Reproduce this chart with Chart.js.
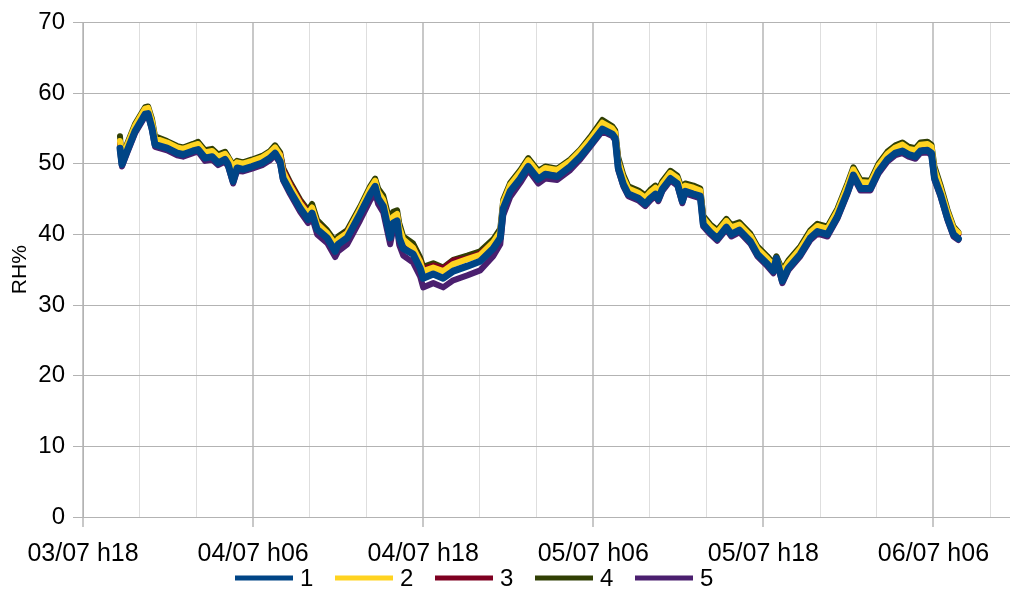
<!DOCTYPE html>
<html>
<head>
<meta charset="utf-8">
<script src="https://cdn.jsdelivr.net/npm/chart.js@4/dist/chart.umd.min.js"></script>
<style>
  html, body { margin: 0; padding: 0; background: #fff; }
  #wrap { width: 1010px; height: 592px; }
</style>
</head>
<body>
<div id="wrap"><canvas id="grafico" width="1010" height="592"></canvas></div>
<script>
// hours since 03/07 h18
const hours = [
  2.61, 2.75, 3.11, 3.67, 4.38, 4.59, 4.87, 5.08, 5.93, 6.64,
  7.06, 7.76, 8.12, 8.61, 9.11, 9.53, 10.02, 10.24, 10.59, 10.87,
  11.29, 11.93, 12.64, 13.20, 13.55, 13.91, 14.12, 14.61, 15.32, 15.88,
  16.16, 16.52, 17.22, 17.79, 18.00, 18.64, 19.55, 20.26, 20.61, 20.82,
  21.18, 21.67, 21.88, 22.16, 22.31, 22.59, 23.29, 23.79, 24.00, 24.71,
  25.41, 26.12, 27.11, 28.02, 28.94, 29.44, 29.65, 30.14, 30.85, 31.41,
  32.12, 32.61, 33.46, 34.38, 35.08, 35.79, 36.64, 37.34, 37.55, 37.76,
  38.12, 38.47, 39.18, 39.67, 40.02, 40.38, 40.59, 40.87, 41.44, 41.93,
  42.28, 42.49, 43.06, 43.55, 43.76, 44.26, 44.75, 45.39, 45.74, 46.31,
  47.08, 47.58, 48.28, 48.71, 48.92, 49.34, 49.76, 50.61, 51.32, 51.81,
  52.52, 53.22, 53.93, 54.35, 54.85, 55.55, 56.12, 56.75, 57.32, 57.81,
  58.24, 58.73, 59.08, 59.58, 59.86, 60.07, 60.49, 60.99, 61.41, 61.76
];

const rh1 = [
  52.2, 49.9, 51.8, 54.6, 57.0, 57.1, 55.0, 52.7, 52.2, 51.5,
  51.3, 51.8, 52.0, 50.8, 51.0, 50.1, 50.6, 49.9, 47.5, 49.4,
  49.2, 49.6, 50.1, 50.8, 51.5, 50.3, 47.9, 46.1, 43.7, 42.1,
  43.0, 40.7, 39.5, 37.6, 38.6, 39.5, 42.9, 45.7, 46.8, 45.1,
  44.0, 39.5, 41.6, 41.9, 39.5, 38.0, 37.2, 35.2, 33.8, 34.4,
  33.8, 34.8, 35.5, 36.2, 38.0, 39.5, 43.7, 46.1, 47.9, 49.6,
  47.8, 48.5, 48.2, 49.6, 51.0, 52.7, 54.9, 54.2, 53.6, 49.4,
  47.1, 45.7, 45.1, 44.3, 45.1, 45.7, 45.0, 46.4, 47.9, 47.2,
  44.7, 46.1, 45.7, 45.4, 41.4, 40.3, 39.4, 41.0, 40.0, 40.6,
  39.0, 37.2, 35.8, 34.8, 36.6, 33.4, 35.2, 37.2, 39.5, 40.4,
  40.0, 42.5, 46.0, 48.4, 46.5, 46.5, 48.9, 50.6, 51.5, 51.8,
  51.3, 51.0, 51.8, 51.9, 51.5, 48.0, 45.7, 42.3, 40.0, 39.4
];

const rh2 = [
  53.2, 50.8, 52.6, 55.4, 57.8, 57.9, 56.0, 53.6, 53.0, 52.3,
  52.1, 52.6, 52.8, 51.6, 51.8, 51.0, 51.4, 50.8, 49.6, 50.2,
  50.0, 50.4, 50.9, 51.6, 52.3, 51.2, 48.9, 46.9, 44.4, 42.9,
  43.8, 41.5, 40.2, 38.6, 39.3, 40.2, 43.6, 46.5, 47.6, 46.0,
  44.9, 41.0, 42.5, 42.9, 41.0, 39.3, 38.1, 36.1, 34.8, 35.3,
  34.8, 35.8, 36.5, 37.1, 38.9, 40.4, 44.6, 47.0, 48.8, 50.5,
  48.7, 49.4, 49.1, 50.4, 51.8, 53.5, 55.8, 55.0, 54.4, 50.4,
  48.0, 46.5, 45.9, 45.2, 46.0, 46.6, 46.0, 47.2, 48.7, 48.0,
  45.9, 46.9, 46.6, 46.2, 42.3, 41.1, 40.3, 41.9, 41.0, 41.4,
  39.8, 38.0, 36.6, 35.6, 36.6, 34.6, 36.0, 38.0, 40.3, 41.2,
  40.8, 43.3, 46.9, 49.2, 47.4, 47.3, 49.7, 51.4, 52.3, 52.7,
  52.1, 51.9, 52.7, 52.8, 52.4, 49.2, 46.6, 43.2, 40.9, 40.2
];

const rh3 = [
  52.8, 50.3, 52.3, 55.0, 57.5, 57.6, 55.6, 53.3, 52.7, 52.0,
  51.8, 52.3, 52.5, 51.3, 51.5, 50.6, 51.1, 50.4, 48.6, 49.9,
  49.7, 50.1, 50.6, 51.3, 52.0, 51.3, 49.2, 47.2, 44.7, 43.1,
  43.6, 41.6, 40.1, 38.5, 39.1, 40.3, 43.4, 46.2, 47.2, 45.8,
  44.8, 40.8, 42.3, 42.6, 40.8, 39.0, 38.1, 36.2, 35.1, 35.6,
  35.2, 36.3, 36.6, 37.3, 38.8, 40.2, 44.3, 46.7, 48.5, 50.1,
  48.3, 49.0, 48.7, 50.1, 51.5, 53.2, 55.4, 54.7, 54.1, 50.3,
  47.8, 46.3, 45.6, 44.9, 45.6, 46.2, 45.6, 46.9, 48.4, 47.7,
  45.5, 46.6, 46.2, 45.9, 42.2, 40.9, 40.1, 41.5, 40.6, 41.1,
  39.5, 37.8, 36.5, 35.5, 36.2, 34.6, 35.8, 37.7, 40.0, 40.9,
  40.5, 43.0, 46.5, 48.8, 47.0, 47.0, 49.3, 51.0, 51.9, 52.2,
  51.7, 51.5, 52.2, 52.3, 52.0, 48.9, 46.4, 43.0, 40.6, 40.0
];

const rh4 = [
  53.9, 50.0, 52.8, 55.6, 58.0, 58.1, 56.3, 53.9, 53.2, 52.5,
  52.3, 52.8, 53.1, 51.9, 52.1, 51.3, 51.7, 51.0, 49.8, 50.4,
  50.2, 50.6, 51.1, 51.8, 52.6, 51.6, 49.4, 47.4, 44.9, 43.4,
  44.3, 42.0, 40.6, 39.0, 39.7, 40.6, 43.9, 46.8, 47.9, 46.5,
  45.5, 41.6, 43.2, 43.4, 41.6, 39.7, 38.7, 36.7, 35.4, 35.9,
  35.3, 36.4, 37.0, 37.6, 39.3, 40.8, 44.9, 47.3, 49.1, 50.8,
  49.0, 49.6, 49.3, 50.6, 52.0, 53.8, 56.2, 55.3, 54.7, 50.9,
  48.4, 46.8, 46.2, 45.5, 46.3, 46.9, 46.3, 47.5, 49.0, 48.3,
  46.3, 47.2, 46.9, 46.5, 42.6, 41.4, 40.6, 42.2, 41.3, 41.7,
  40.1, 38.3, 36.9, 35.9, 36.9, 34.9, 36.3, 38.3, 40.6, 41.5,
  41.1, 43.6, 47.2, 49.5, 47.7, 47.6, 50.0, 51.7, 52.6, 53.0,
  52.4, 52.2, 53.0, 53.1, 52.7, 49.6, 47.0, 43.5, 41.1, 40.3
];

const rh5 = [
  51.9, 49.6, 51.5, 54.3, 56.7, 56.8, 54.7, 52.4, 51.9, 51.2,
  51.0, 51.5, 51.7, 50.4, 50.6, 49.8, 50.3, 49.6, 47.2, 49.0,
  48.9, 49.3, 49.8, 50.5, 51.2, 50.0, 47.6, 45.7, 43.2, 41.6,
  42.4, 40.0, 38.8, 36.8, 37.6, 38.6, 42.0, 44.8, 45.9, 44.3,
  43.1, 38.6, 40.6, 40.8, 38.5, 37.0, 36.0, 34.0, 32.5, 33.1,
  32.5, 33.5, 34.2, 34.9, 36.9, 38.6, 42.7, 45.3, 47.3, 49.1,
  47.2, 47.9, 47.7, 49.1, 50.6, 52.4, 54.6, 53.9, 53.3, 49.1,
  46.8, 45.4, 44.8, 44.0, 44.8, 45.4, 44.7, 46.1, 47.6, 46.9,
  44.4, 45.8, 45.4, 45.1, 41.1, 40.0, 39.1, 40.7, 39.7, 40.3,
  38.7, 36.9, 35.5, 34.5, 36.3, 33.1, 34.9, 36.9, 39.2, 40.1,
  39.7, 42.2, 45.7, 48.1, 46.2, 46.2, 48.6, 50.3, 51.2, 51.5,
  51.0, 50.7, 51.5, 51.6, 51.2, 47.7, 45.4, 42.0, 39.7, 39.2
];

const seriesNames = ['1', '2', '3', '4', '5'];
const seriesColors = ['#004586', '#ffd320', '#7e0021', '#314004', '#4b1f6f'];
const xTickLabels = ['03/07 h18', '04/07 h06', '04/07 h18', '05/07 h06', '05/07 h18', '06/07 h06'];
const yTicks = [0, 10, 20, 30, 40, 50, 60, 70];

const allSeries = [rh1, rh2, rh3, rh4, rh5];
const fontFam = '"Liberation Sans", Arial, sans-serif';

const datasets = allSeries.map((serie, i) => ({
  label: seriesNames[i],
  data: hours.map((h, k) => ({ x: h, y: serie[k] })),
  borderColor: seriesColors[i],
  backgroundColor: seriesColors[i],
  borderWidth: i === 0 ? 7 : 6,
  pointRadius: 0,
  tension: 0,
  borderJoinStyle: 'round',
  borderCapStyle: 'round'
}));

const esMayor = (v) => Math.abs(v % 12) < 1e-6;

// legend drawn by hand: line sample + label, a row under the axis labels
const leyendaAbajo = {
  id: 'leyendaAbajo',
  afterDraw(chart) {
    const ctx = chart.ctx;
    const y = 578;
    let x = 235;
    ctx.save();
    ctx.font = '24px ' + fontFam;
    ctx.textBaseline = 'middle';
    ctx.textAlign = 'left';
    chart.data.datasets.forEach(ds => {
      ctx.fillStyle = ds.borderColor;
      ctx.fillRect(x, y - 2.5, 58, 5);
      ctx.fillStyle = '#000';
      ctx.fillText(ds.label, x + 65, y + 1);
      x += 100;
    });
    ctx.restore();
  }
};

new Chart(document.getElementById('grafico').getContext('2d'), {
  type: 'line',
  data: { datasets },
  plugins: [leyendaAbajo],
  options: {
    responsive: false,
    animation: false,
    devicePixelRatio: 1,
    layout: { padding: { left: 0, right: 0, top: 21, bottom: 11 } },
    plugins: {
      tooltip: { enabled: false },
      legend: { display: false }
    },
    scales: {
      x: {
        type: 'linear',
        min: 0,
        max: 65.4,
        ticks: {
          stepSize: 4,
          autoSkip: false,
          maxRotation: 0,
          includeBounds: false,
          color: '#000',
          font: { family: fontFam, size: 25 },
          padding: 12,
          callback: (v) => esMayor(v) ? xTickLabels[Math.round(v / 12)] : ''
        },
        grid: {
          color: (ctx) => esMayor(ctx.tick.value) ? '#c8c8c8' : '#dedede',
          lineWidth: (ctx) => esMayor(ctx.tick.value) ? 2 : 1,
          tickColor: (ctx) => esMayor(ctx.tick.value) ? '#c8c8c8' : 'rgba(0,0,0,0)',
          tickLength: 10
        },
        border: { color: '#b3b3b3', width: 1 }
      },
      y: {
        min: 0,
        max: 70,
        afterBuildTicks: (scale) => { scale.ticks = yTicks.map(v => ({ value: v })); },
        ticks: {
          color: '#000',
          font: { family: fontFam, size: 24 },
          padding: 8
        },
        grid: { color: '#b3b3b3', tickLength: 10 },
        border: { color: '#b3b3b3', width: 1 },
        title: {
          display: true,
          text: 'RH%',
          color: '#000',
          font: { family: fontFam, size: 21 },
          padding: { top: 8, bottom: 0 }
        },
        afterFit: (scale) => { scale.width = 83; }
      }
    }
  }
});
</script>
</body>
</html>
